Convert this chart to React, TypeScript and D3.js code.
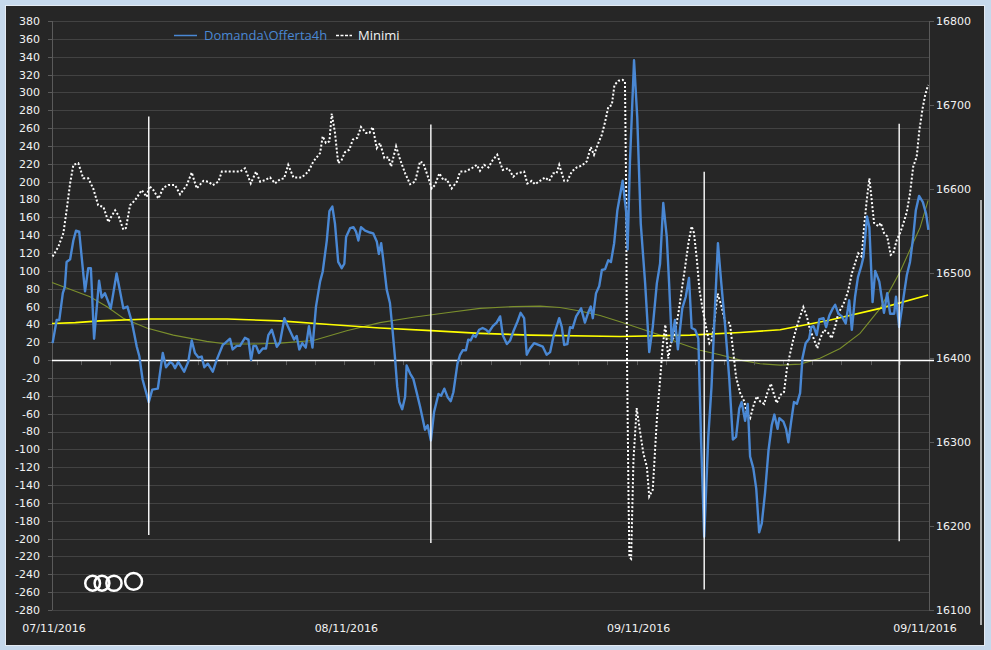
import React from "react";
import * as d3 from "d3";

const W = 991;
const H = 650;

// axis definitions
const leftTicks = d3.range(-280, 381, 20);
const rightTicks = d3.range(16100, 16801, 100);
const xTickIdx = d3.range(0, 301, 10);
const xLabels: [number, string][] = [
  [0, "07/11/2016"],
  [100, "08/11/2016"],
  [200, "09/11/2016"],
  [300, "09/11/2016"],
];

// Domanda\Offerta4h (left axis) [bar index, value]
const domandaOfferta: [number, number][] = [
  [0.2,19],[1.6,45],[2.5,45],[3.7,75],[4.4,82],[5.0,110],[6.2,113],[7.3,134],[8.2,145],[9.3,144],[11.3,77],[12.4,103],[13.3,103],[14.4,24],[16.1,89],[17.0,70],[18.1,75],[20.1,58],[22.1,97],[24.4,58],[25.8,60],[27.3,43],[29.0,15],[29.9,4],[31.0,-22],[33.1,-47],[34.3,-33],[36.2,-32],[37.9,8],[39.0,-8],[40.4,-2],[41.3,-4],[42.1,-9],[43.2,-2],[45.2,-13],[46.6,-2],[47.8,22],[48.9,8],[50.1,3],[51.2,4],[52.1,-8],[53.3,-4],[55.0,-13],[56.3,0],[58.4,17],[59.2,19],[60.9,24],[61.8,12],[63.2,16],[64.3,16],[66.0,25],[67.2,23],[68.1,0],[68.9,16],[69.8,16],[70.8,8],[72.1,13],[73.2,13],[74.0,28],[75.2,34],[76.9,15],[78.0,20],[79.5,47],[80.8,37],[82.8,23],[83.7,27],[84.6,12],[85.6,19],[86.8,14],[87.9,38],[89.1,14],[90.3,60],[91.7,88],[92.6,99],[94.0,134],[94.9,167],[95.9,172],[96.8,153],[97.9,110],[99.1,103],[100.0,108],[100.6,138],[102.0,148],[103.1,149],[104.0,144],[104.8,134],[105.7,149],[107.1,145],[108.8,143],[109.9,142],[111.1,133],[111.8,119],[112.6,131],[113.3,113],[114.5,79],[115.6,64],[116.4,37],[117.3,4],[118.1,-30],[118.8,-47],[119.8,-55],[120.8,-41],[121.3,-6],[122.5,-15],[123.6,-21],[124.8,-37],[125.9,-52],[127.6,-78],[128.5,-73],[129.6,-90],[130.7,-58],[132.2,-38],[133.1,-40],[134.2,-32],[135.4,-42],[136.4,-46],[137.3,-36],[138.7,-4],[139.6,6],[140.5,11],[141.6,11],[142.4,23],[143.2,22],[144.1,28],[144.9,26],[146.1,34],[147.3,36],[148.5,34],[149.4,31],[150.8,38],[152.1,42],[153.3,49],[154.2,28],[155.6,18],[156.7,22],[157.8,32],[159.2,43],[160.3,53],[161.5,47],[162.4,6],[163.5,13],[164.9,19],[166.4,17],[167.9,15],[169.2,6],[170.4,9],[171.5,26],[173.5,47],[174.4,37],[175.2,17],[176.3,18],[177.2,37],[178.1,36],[179.3,49],[181.0,58],[182.3,42],[183.5,54],[184.3,60],[185.0,47],[186.1,75],[187.2,83],[188.1,101],[189.2,102],[190.3,112],[191.2,110],[192.3,131],[193.4,168],[195.2,201],[196.4,166],[196.9,124],[197.7,222],[199.1,336],[200.2,272],[201.4,153],[202.9,86],[204.3,9],[205.5,37],[206.9,86],[208.0,108],[209.1,176],[210.3,138],[211.1,86],[212.0,21],[213.1,45],[214.1,12],[215.6,58],[216.8,71],[217.9,92],[218.8,36],[220.0,34],[221.1,24],[222.0,-86],[223.1,-198],[224.5,-86],[225.6,-30],[226.8,60],[227.8,131],[228.9,88],[230.3,37],[231.7,-22],[232.9,-89],[234.0,-86],[235.1,-54],[235.9,-47],[237.1,-68],[238.0,-49],[238.8,-108],[239.9,-121],[240.9,-144],[241.9,-193],[242.8,-183],[243.9,-149],[245.1,-101],[246.2,-73],[247.1,-61],[248.2,-77],[248.8,-65],[250.2,-69],[251.1,-77],[251.9,-92],[252.8,-70],[253.8,-47],[254.8,-49],[255.9,-37],[256.7,2],[257.8,19],[259.0,24],[259.7,37],[260.5,38],[261.6,28],[262.5,46],[263.9,47],[264.8,37],[265.9,50],[267.1,58],[267.9,62],[269.0,52],[270.2,49],[271.5,41],[272.7,67],[273.6,34],[274.7,71],[275.7,93],[276.8,105],[277.6,116],[278.8,161],[279.6,149],[280.7,65],[281.6,100],[283.0,88],[284.6,53],[285.7,75],[286.7,52],[288.1,52],[288.7,71],[289.8,37],[291.0,64],[292.4,95],[293.5,110],[294.6,138],[295.5,168],[296.6,184],[297.9,177],[299.0,164],[299.8,146],
];

// Minimi (right axis) [bar index, value]
const minimi: [number, number][] = [
  [0.2,16520],[2.2,16532],[3.9,16548],[5.0,16575],[6.2,16607],[7.3,16629],[9.0,16631],[10.7,16613],[12.4,16613],[14.1,16601],[15.8,16581],[17.6,16579],[19.3,16561],[20.2,16567],[21.6,16575],[22.7,16569],[24.4,16552],[25.3,16554],[26.7,16581],[28.4,16587],[30.7,16599],[32.4,16591],[33.3,16604],[34.7,16599],[36.4,16589],[38.1,16602],[39.8,16605],[42.1,16605],[43.8,16594],[46.1,16605],[47.8,16620],[49.5,16601],[51.8,16610],[53.5,16609],[55.0,16605],[56.9,16609],[58.1,16621],[61.5,16621],[64.3,16621],[66.0,16625],[68.0,16607],[69.8,16621],[71.2,16609],[72.9,16611],[74.6,16614],[76.3,16607],[78.0,16612],[79.4,16613],[80.8,16629],[82.6,16614],[85.4,16614],[87.7,16621],[89.4,16633],[91.7,16643],[92.6,16663],[93.7,16655],[94.9,16657],[95.7,16690],[96.8,16667],[97.9,16631],[99.1,16635],[100.2,16644],[101.7,16647],[102.9,16659],[104.4,16661],[105.7,16674],[107.4,16667],[108.6,16667],[109.7,16674],[111.1,16649],[112.2,16655],[113.7,16637],[115.1,16638],[116.0,16627],[117.7,16651],[119.1,16635],[120.8,16619],[122.5,16606],[124.2,16609],[125.9,16633],[127.0,16631],[128.5,16616],[129.9,16601],[131.0,16605],[132.5,16619],[133.9,16611],[135.0,16612],[136.7,16601],[138.5,16609],[139.6,16621],[141.3,16621],[143.6,16625],[145.3,16629],[146.4,16622],[147.8,16629],[149.3,16626],[150.8,16635],[152.3,16641],[154.2,16623],[156.1,16625],[157.8,16615],[159.2,16619],[161.5,16621],[162.6,16607],[164.1,16610],[165.2,16606],[166.9,16610],[168.7,16614],[170.1,16610],[171.5,16619],[172.6,16619],[173.5,16629],[175.2,16610],[176.3,16610],[177.8,16621],[179.5,16626],[181.2,16628],[182.9,16633],[184.3,16650],[185.4,16641],[186.9,16655],[188.1,16665],[189.2,16680],[190.3,16698],[191.5,16700],[192.4,16724],[193.8,16729],[195.2,16730],[196.0,16728],[196.4,16595],[196.7,16397],[197.2,16239],[197.5,16163],[198.1,16161],[198.9,16278],[200.0,16340],[200.9,16318],[202.3,16286],[203.5,16270],[204.3,16235],[205.5,16243],[206.9,16326],[208.0,16373],[208.9,16413],[209.8,16439],[210.8,16399],[211.7,16417],[212.8,16425],[214.3,16453],[215.4,16480],[216.6,16508],[217.7,16536],[218.8,16556],[219.6,16548],[220.6,16516],[221.5,16480],[222.6,16457],[223.7,16437],[224.9,16417],[225.7,16421],[226.8,16449],[227.7,16476],[229.1,16460],[230.2,16443],[231.9,16441],[233.1,16405],[234.0,16377],[235.4,16358],[236.8,16348],[237.7,16334],[238.8,16328],[239.9,16342],[241.1,16354],[242.2,16348],[243.6,16345],[244.7,16358],[245.9,16369],[246.8,16358],[247.9,16346],[249.3,16356],[250.4,16359],[251.4,16387],[252.5,16405],[253.6,16422],[254.8,16437],[255.9,16449],[257.0,16460],[258.2,16449],[259.3,16433],[260.5,16423],[261.8,16411],[262.7,16422],[264.1,16433],[265.6,16429],[266.7,16423],[267.9,16437],[269.0,16453],[270.2,16460],[271.3,16468],[272.4,16480],[273.6,16500],[274.7,16512],[275.8,16524],[277.0,16520],[277.8,16556],[278.7,16587],[279.6,16613],[280.4,16587],[281.2,16560],[282.7,16556],[283.5,16560],[284.6,16548],[285.7,16544],[286.9,16522],[287.8,16524],[289.0,16540],[290.1,16548],[291.3,16560],[292.4,16573],[293.5,16595],[294.6,16627],[295.8,16639],[296.7,16670],[297.8,16696],[298.7,16712],[299.7,16724],
];

// slow average (yellow, left axis)
const mediaLenta: [number, number][] = [
  [0,41],[8,42],[16.4,44],[33.5,46],[60,46],[78,44],[95,40],[112.2,36],[129.7,33],[146.4,30],[163.5,28],[194.3,26.5],[218.3,28],[235.4,31],[249.1,34],[266.2,45],[283.3,58],[299.7,73],
];

// polynomial trend (olive, left axis)
const trendPoli: [number, number][] = [
  [0,87],[7.3,78],[13,71],[18.7,60],[24.4,47],[32.4,36],[41.5,28],[52.9,21],[59.8,18],[67.7,18],[78,19],[89.4,22],[100.8,33],[112.2,42],[123.6,48],[135,53],[146.4,58],[157.8,60],[167,60.5],[173.8,59],[180.6,55],[187.5,50],[194.3,43],[201.2,35.5],[208,28],[214.8,19],[221.7,11],[228.5,6],[235.4,0],[242.2,-4],[249.1,-5.6],[255.9,-4.5],[262.7,2],[269.6,13],[276.4,30],[283.3,58],[290.1,99],[297,149],[299.7,179],
];

// vertical marker lines (left axis units)
const markerIdx = [33.1, 129.6, 223.1, 289.8];
const markerTop = [273, 264, 211, 265];
const markerBottom = [-196, -205, -257, -203];

// logo rings [bar index, left value, radius]
const ringIdx = [13.9, 17.1, 21.2, 27.9];
const ringVal = [-250, -250, -250, -248];
const ringR = [7.4, 7.4, 7.6, 8.4];

const PLOT = { x0: 52, x1: 929, y0: 21, y1: 610 };

export default function App() {
  const x = d3.scaleLinear().domain([0, 300]).range([PLOT.x0, PLOT.x1]);
  const yL = d3.scaleLinear().domain([-280, 380]).range([PLOT.y1, PLOT.y0]);
  const yR = d3.scaleLinear().domain([16100, 16800]).range([PLOT.y1, PLOT.y0]);

  const lineL = d3.line<[number, number]>().x((d) => x(d[0])).y((d) => yL(d[1]));
  const lineR = d3.line<[number, number]>().x((d) => x(d[0])).y((d) => yR(d[1]));

  const labelFont = "'DejaVu Sans', Verdana, sans-serif";
  const legendFont = "'Open Sans', 'Segoe UI', sans-serif";
  const axisGrey = "#5a5a5a";
  const gridGrey = "#424242";
  const textCol = "#f2f2f2";

  return (
    <div>
      <style>{"body{margin:0;background:#c6d9ec;}"}</style>
      <svg width={W} height={H} style={{ display: "block" }}>
        <rect x={0} y={0} width={W} height={H} fill="#c6d9ec" />
        <rect x={5.5} y={5.5} width={979} height={640} fill="#262626" stroke="#e4ebf3" strokeWidth={1} />

        {/* gridlines */}
        {leftTicks.map((t) => (
          <line key={"g" + t} x1={PLOT.x0} x2={PLOT.x1} y1={Math.round(yL(t)) + 0.5} y2={Math.round(yL(t)) + 0.5}
            stroke={gridGrey} strokeWidth={1} />
        ))}

        {/* left axis */}
        <line x1={PLOT.x0 + 0.5} x2={PLOT.x0 + 0.5} y1={PLOT.y0} y2={PLOT.y1} stroke={axisGrey} />
        {leftTicks.map((t) => (
          <g key={"l" + t}>
            <line x1={PLOT.x0 - 4} x2={PLOT.x0} y1={Math.round(yL(t)) + 0.5} y2={Math.round(yL(t)) + 0.5} stroke={axisGrey} />
            <text x={40} y={yL(t)} dy="0.36em" textAnchor="end" fontFamily={labelFont} fontSize={11} fill={textCol}>
              {t}
            </text>
          </g>
        ))}

        {/* right axis */}
        <line x1={PLOT.x1 + 0.5} x2={PLOT.x1 + 0.5} y1={PLOT.y0} y2={PLOT.y1} stroke={axisGrey} />
        {rightTicks.map((t) => (
          <g key={"r" + t}>
            <line x1={PLOT.x1} x2={PLOT.x1 + 5} y1={Math.round(yR(t)) + 0.5} y2={Math.round(yR(t)) + 0.5} stroke={axisGrey} />
            <text x={936} y={yR(t)} dy="0.36em" textAnchor="start" fontFamily={labelFont} fontSize={11} fill={textCol}>
              {t}
            </text>
          </g>
        ))}

        {/* x labels */}
        {xLabels.map(([i, t], k) => (
          <text key={"x" + k} x={k === 3 ? x(i) - 4 : x(i) + 2} y={632} textAnchor="middle" fontFamily={labelFont} fontSize={11} fill={textCol}>
            {t}
          </text>
        ))}

        {/* olive polynomial trend */}
        <path d={lineL(trendPoli) || ""} fill="none" stroke="#7b8f2c" strokeWidth={1.1} />

        {/* yellow average */}
        <path d={lineL(mediaLenta) || ""} fill="none" stroke="#ffff00" strokeWidth={1.6} />

        {/* zero axis with ticks */}
        {xTickIdx.map((i) => (
          <line key={"xt" + i} x1={Math.round(x(i)) + 0.5} x2={Math.round(x(i)) + 0.5} y1={yL(0)} y2={yL(0) + 5} stroke={axisGrey} />
        ))}
        <line x1={PLOT.x0} x2={PLOT.x1 + 5} y1={Math.round(yL(0)) + 0.5} y2={Math.round(yL(0)) + 0.5} stroke="#ffffff" strokeWidth={1.6} />

        {/* Minimi dotted */}
        <path d={lineR(minimi) || ""} fill="none" stroke="#ffffff" strokeWidth={2} strokeDasharray="2 2" />

        {/* Domanda\Offerta4h */}
        <path d={lineL(domandaOfferta) || ""} fill="none" stroke="#4a88d4" strokeWidth={2.4} strokeLinejoin="round" />

        {/* vertical markers */}
        {markerIdx.map((m, k) => (
          <line key={"m" + k} x1={x(m)} x2={x(m)} y1={yL(markerTop[k])} y2={yL(markerBottom[k])} stroke="#ffffff" strokeWidth={1.4} />
        ))}

        {/* logo rings */}
        {ringIdx.map((ri, k) => (
          <circle key={"c" + k} cx={x(ri)} cy={yL(ringVal[k])} r={ringR[k]} fill="none" stroke="#ffffff" strokeWidth={2.5} />
        ))}

        {/* legend */}
        <line x1={174} x2={197} y1={35.5} y2={35.5} stroke="#4a88d4" strokeWidth={1.5} />
        <text x={204} y={40} fontFamily={legendFont} fontSize={13} fill="#4a88d4">
          {"Domanda\\Offerta4h"}
        </text>
        <line x1={336} x2={352} y1={35.5} y2={35.5} stroke="#ffffff" strokeWidth={1.3} strokeDasharray="3 1.5" />
        <text x={358} y={40} fontFamily={legendFont} fontSize={13} fill={textCol}>
          Minimi
        </text>

        {/* side bar line at right */}
        <line x1={981} x2={981} y1={200} y2={625} stroke="#d8d8d8" strokeWidth={1.5} />
      </svg>
    </div>
  );
}
